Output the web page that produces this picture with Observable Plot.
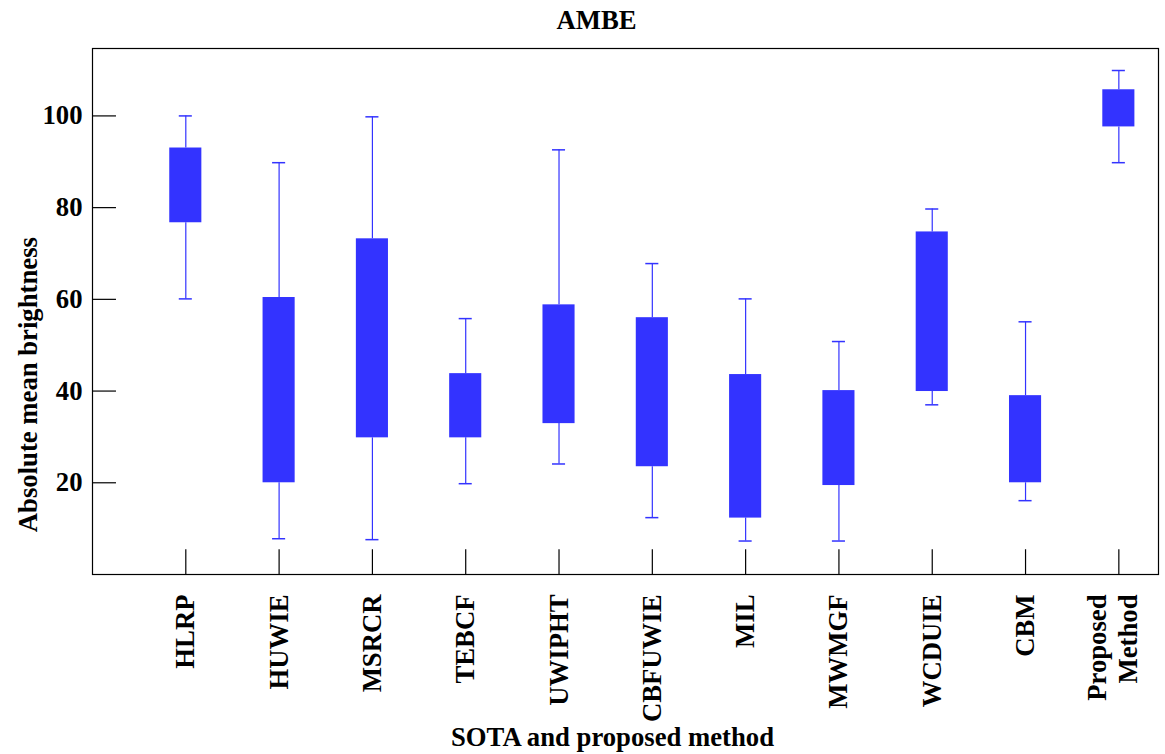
<!DOCTYPE html>
<html>
<head>
<meta charset="utf-8">
<script src="https://cdn.jsdelivr.net/npm/d3@7"></script>
<script src="https://cdn.jsdelivr.net/npm/@observablehq/plot@0.6"></script>
<style>
  html, body { margin: 0; padding: 0; background: #fff; }
</style>
</head>
<body>
<div id="chart"></div>
<script>
const methods = ["HLRP", "HUWIE", "MSRCR", "TEBCF", "UWIPHT", "CBFUWIE", "MIL", "MWMGF", "WCDUIE", "CBM", "Proposed\nMethod"];
const whiskerLow  = [60.1, 7.8, 7.6, 19.8, 24.1, 12.4, 7.3, 7.3, 37.0, 16.1, 89.8];
const boxLow      = [76.7, 20.0, 29.8, 29.8, 32.9, 23.5, 12.3, 19.4, 39.9, 20.0, 97.6];
const boxHigh     = [93.0, 60.4, 73.2, 43.8, 58.8, 56.0, 43.6, 40.1, 74.7, 39.0, 105.7];
const whiskerHigh = [100.0, 89.8, 99.8, 55.8, 92.6, 67.8, 60.1, 50.8, 79.7, 55.1, 109.9];
const yTicks = [20, 40, 60, 80, 100];

const data = methods.map((m, k) => ({
  i: k + 1, name: m,
  lo: whiskerLow[k], q1: boxLow[k], q3: boxHigh[k], hi: whiskerHigh[k]
}));
const xPos = data.map(d => d.i);

const blue = "#3333ff";
const halfBox = 0.172;
const halfCap = 0.07;
const fs = 26.7;

const chart = Plot.plot({
  width: 1165,
  height: 754,
  marginLeft: 92,
  marginRight: 7,
  marginTop: 48,
  marginBottom: 180,
  style: { fontFamily: "'Liberation Serif', 'Times New Roman', serif", fontWeight: "bold", color: "#000", background: "#fff" },
  x: { type: "linear", domain: [0, 11.425] },
  y: { domain: [0, 114.7] },
  marks: [
    Plot.frame({ stroke: "#000", strokeWidth: 1.2 }),
    // whiskers
    Plot.ruleX(data, { x: "i", y1: "lo", y2: "q1", stroke: blue, strokeWidth: 1.2 }),
    Plot.ruleX(data, { x: "i", y1: "q3", y2: "hi", stroke: blue, strokeWidth: 1.2 }),
    Plot.ruleY(data, { y: "lo", x1: d => d.i - halfCap, x2: d => d.i + halfCap, stroke: blue, strokeWidth: 1.5 }),
    Plot.ruleY(data, { y: "hi", x1: d => d.i - halfCap, x2: d => d.i + halfCap, stroke: blue, strokeWidth: 1.5 }),
    // boxes
    Plot.rectY(data, { x1: d => d.i - halfBox, x2: d => d.i + halfBox, y1: "q1", y2: "q3", fill: blue }),
    // inward ticks
    Plot.ruleY(yTicks, { y: d => d, x1: 0, x2: 0.257, stroke: "#000", strokeWidth: 1.2 }),
    Plot.ruleX(xPos, { x: d => d, y1: 0, y2: 5.4, stroke: "#000", strokeWidth: 1.2 }),
    // axes
    Plot.axisY({ ticks: yTicks, tickSize: 0, tickPadding: 10, fontSize: fs, label: null }),
    Plot.axisX({ ticks: xPos.slice(0, 10), tickFormat: i => methods[i - 1], tickRotate: -90, tickSize: 0, tickPadding: 20, fontSize: fs, label: null }),
    Plot.axisX({ ticks: xPos.slice(10), tickFormat: i => methods[i - 1], tickRotate: -90, tickSize: 0, tickPadding: 20, fontSize: fs, lineHeight: 1.15, dx: -7, label: null }),
    // titles
    Plot.text(["AMBE"], { frameAnchor: "top", dx: -29, dy: -28, lineAnchor: "middle", fontSize: fs, fontWeight: "bold" }),
    Plot.text(["SOTA and proposed method"], { frameAnchor: "bottom", dx: -13, dy: 163, lineAnchor: "middle", fontSize: fs, fontWeight: "bold" }),
    Plot.text(["Absolute mean brightness"], { x: [-0.686], y: [41.4], rotate: -90, lineAnchor: "middle", textAnchor: "middle", fontSize: fs, fontWeight: "bold" })
  ]
});
document.getElementById("chart").appendChild(chart);
</script>
</body>
</html>
